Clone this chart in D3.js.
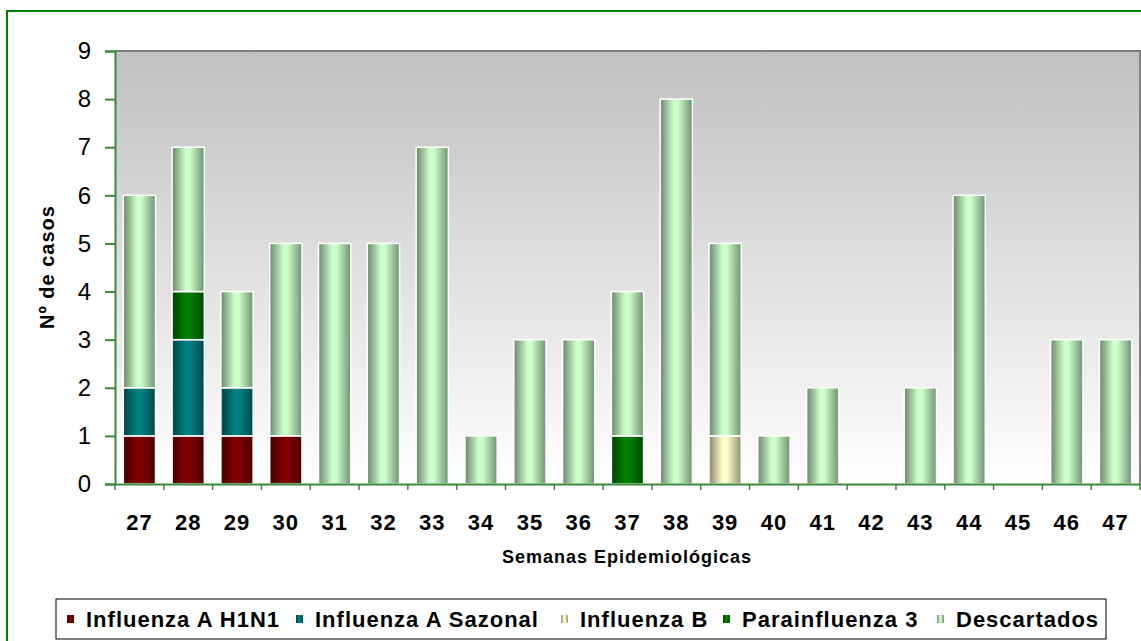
<!DOCTYPE html>
<html>
<head>
<meta charset="utf-8">
<script src="https://cdn.jsdelivr.net/npm/d3@7"></script>
<style>
body { margin: 0; background: #fff; }
svg { display: block; font-family: Arial, "Liberation Sans", sans-serif; }
</style>
</head>
<body>
<div class="chart"></div>
<script>
var weeks = ["27","28","29","30","31","32","33","34","35","36","37","38","39","40","41","42","43","44","45","46","47"];
var h1n1        = [1,1,1,1,0,0,0,0,0,0,0,0,0,0,0,0,0,0,0,0,0];
var sazonal     = [1,2,1,0,0,0,0,0,0,0,0,0,0,0,0,0,0,0,0,0,0];
var influenzaB  = [0,0,0,0,0,0,0,0,0,0,0,0,1,0,0,0,0,0,0,0,0];
var parainf3    = [0,1,0,0,0,0,0,0,0,0,1,0,0,0,0,0,0,0,0,0,0];
var descartados = [4,3,2,4,5,5,7,1,3,3,3,8,4,1,2,0,2,6,0,3,3];
var yTicks = [0,1,2,3,4,5,6,7,8,9];

var series = [
  {name: "Influenza A H1N1", key: "h1n1", values: h1n1, color: "#800000"},
  {name: "Influenza A Sazonal", key: "saz", values: sazonal, color: "#008080"},
  {name: "Influenza B", key: "infb", values: influenzaB, color: "#ffffcc"},
  {name: "Parainfluenza 3", key: "para", values: parainf3, color: "#008000"},
  {name: "Descartados", key: "desc", values: descartados, color: "#ccffcc"}
];

var width = 1141, height = 641;
var plot = {left: 115, top: 51, right: 1140, bottom: 484};
var axisGreen = "#3a8a3a";

var svg = d3.select(".chart").append("svg")
    .attr("width", width)
    .attr("height", height);

var defs = svg.append("defs");
var bg = defs.append("linearGradient").attr("id", "bg")
    .attr("x1", 0).attr("y1", 0).attr("x2", 0).attr("y2", 1);
bg.append("stop").attr("offset", "0%").attr("stop-color", "#c0c0c0");
bg.append("stop").attr("offset", "100%").attr("stop-color", "#ffffff");

// horizontal shading of each bar: dark edges, light near the middle
series.forEach(function(s) {
  var c = d3.rgb(s.color);
  var g = defs.append("linearGradient").attr("id", "g-" + s.key)
      .attr("x1", 0).attr("y1", 0).attr("x2", 1).attr("y2", 0);
  g.append("stop").attr("offset", "0%").attr("stop-color", c.darker(1.8));
  g.append("stop").attr("offset", "42%").attr("stop-color", c);
  g.append("stop").attr("offset", "55%").attr("stop-color", c);
  g.append("stop").attr("offset", "100%").attr("stop-color", c.darker(1.6));
});

// outer frame (right and bottom fall outside the picture)
svg.append("rect")
    .attr("x", 7).attr("y", 11)
    .attr("width", 1160).attr("height", 660)
    .attr("fill", "none").attr("stroke", "#008000").attr("stroke-width", 2);

var x = d3.scaleBand()
    .domain(weeks)
    .range([plot.left, plot.right])
    .paddingInner(0.34)
    .paddingOuter(0.17);

var y = d3.scaleLinear()
    .domain([0, 9])
    .range([plot.bottom, plot.top]);

// plot area
svg.append("rect")
    .attr("x", plot.left).attr("y", plot.top)
    .attr("width", plot.right - plot.left).attr("height", plot.bottom - plot.top)
    .attr("fill", "url(#bg)");
svg.append("path")
    .attr("d", "M" + plot.left + "," + plot.top + "H" + plot.right + "V" + plot.bottom)
    .attr("fill", "none").attr("stroke", "#808080").attr("stroke-width", 2);

// stacked bars
var rows = weeks.map(function(w, i) {
  var r = {week: w};
  series.forEach(function(s) { r[s.key] = s.values[i]; });
  return r;
});
var stack = d3.stack().keys(series.map(function(s) { return s.key; }));
var layers = stack(rows);

svg.selectAll(".layer")
  .data(layers)
  .enter().append("g")
    .attr("class", "layer")
    .attr("fill", function(d) { return "url(#g-" + d.key + ")"; })
  .selectAll("rect")
  .data(function(d) { return d.filter(function(p) { return p[1] > p[0]; }); })
  .enter().append("rect")
    .attr("x", function(d) { return x(d.data.week); })
    .attr("y", function(d) { return y(d[1]); })
    .attr("width", x.bandwidth())
    .attr("height", function(d) { return y(d[0]) - y(d[1]); })
    .attr("stroke", "#ffffff")
    .attr("stroke-width", 1.5);

// y axis
var yAxis = svg.append("g")
    .attr("transform", "translate(" + plot.left + ",0)")
    .call(d3.axisLeft(y).tickValues(yTicks).tickSize(10).tickPadding(14));
yAxis.select(".domain").attr("stroke", axisGreen).attr("stroke-width", 2);
yAxis.selectAll(".tick line").attr("stroke", axisGreen).attr("stroke-width", 2);
yAxis.selectAll(".tick text")
    .attr("font-size", 24).attr("fill", "#000")
    .attr("font-family", "Arial, 'Liberation Sans', sans-serif");

// x axis
var xAxis = svg.append("g")
    .attr("transform", "translate(0," + plot.bottom + ")")
    .call(d3.axisBottom(x).tickSize(0).tickPadding(30));
xAxis.select(".domain").attr("stroke", axisGreen).attr("stroke-width", 2);
xAxis.selectAll(".tick text")
    .attr("font-size", 22).attr("font-weight", "bold").attr("fill", "#000")
    .attr("letter-spacing", 1)
    .attr("font-family", "Arial, 'Liberation Sans', sans-serif");
var step = x.step();
xAxis.selectAll(".sep")
  .data(weeks.concat(["end"]))
  .enter().append("line")
    .attr("class", "sep")
    .attr("x1", function(d, i) { return plot.left + i * step; })
    .attr("x2", function(d, i) { return plot.left + i * step; })
    .attr("y1", 0).attr("y2", 6)
    .attr("stroke", axisGreen).attr("stroke-width", 1.5);

// axis titles
svg.append("text")
    .attr("x", 627).attr("y", 563)
    .attr("text-anchor", "middle")
    .attr("font-size", 18).attr("font-weight", "bold")
    .attr("letter-spacing", 1)
    .text("Semanas Epidemiológicas");
svg.append("text")
    .attr("transform", "translate(54,267) rotate(-90)")
    .attr("text-anchor", "middle")
    .attr("font-size", 20).attr("font-weight", "bold")
    .attr("letter-spacing", 1)
    .text("Nº de casos");

// legend
var legend = svg.append("g");
legend.append("rect")
    .attr("x", 56).attr("y", 599)
    .attr("width", 1050).attr("height", 40)
    .attr("fill", "#fff").attr("stroke", "#000").attr("stroke-width", 1);
var lx = [67, 296, 561, 723, 937];
var items = legend.selectAll(".item")
  .data(series)
  .enter().append("g")
    .attr("class", "item")
    .attr("transform", function(d, i) { return "translate(" + lx[i] + ",619)"; });
items.append("rect")
    .attr("x", 0).attr("y", -4).attr("width", 7).attr("height", 8)
    .attr("fill", function(d) { return "url(#g-" + d.key + ")"; });
items.append("text")
    .attr("x", 19).attr("dy", "0.36em")
    .attr("font-size", 22).attr("font-weight", "bold")
    .attr("letter-spacing", 1)
    .text(function(d) { return d.name; });
</script>
</body>
</html>
